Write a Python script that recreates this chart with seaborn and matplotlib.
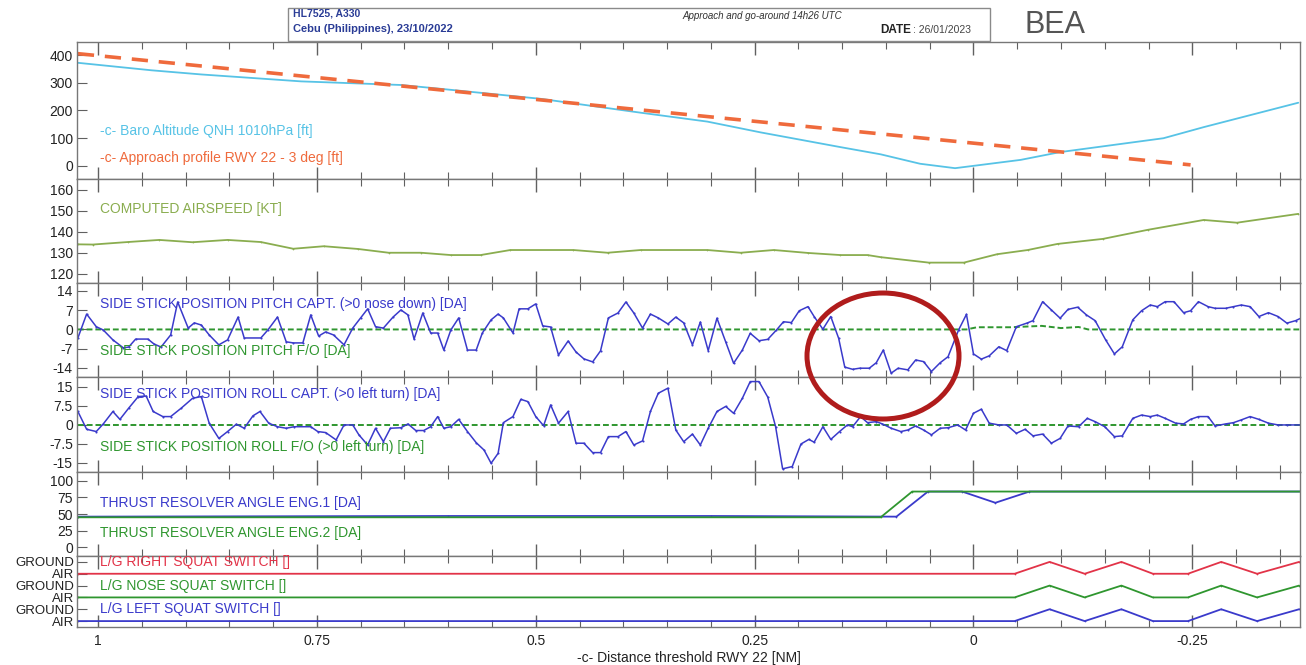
import matplotlib
matplotlib.use("Agg")
import matplotlib.pyplot as plt
import matplotlib.ticker as mticker
from matplotlib.patches import Rectangle, Ellipse
import seaborn as sns

# ---- values, x = distance to threshold RWY 22 [NM] ----
ALT_DIST = [1.023, 0.939, 0.882, 0.768, 0.654, 0.608, 0.494, 0.380, 0.304, 0.243,
            0.152, 0.106, 0.061, 0.021, -0.054, -0.099, -0.217, -0.263, -0.371]
ALT_BARO = [372, 345, 330, 305, 292, 278, 242, 192, 160, 121,
            68, 42, 8, -8, 22, 50, 100, 140, 228]
PROFILE_DIST = [1.023, -0.248]
PROFILE_ALT = [405, 4]

CAS_DIST = [1.023, 1.006, 0.966, 0.930, 0.892, 0.852, 0.814, 0.777, 0.742, 0.703,
            0.668, 0.631, 0.597, 0.563, 0.529, 0.457, 0.418, 0.380, 0.304, 0.266,
            0.228, 0.189, 0.152, 0.121, 0.106, 0.051, 0.011, -0.027, -0.062, -0.096,
            -0.148, -0.199, -0.263, -0.301, -0.371]
CAS_KT = [134.1, 134, 135.2, 136.2, 135.1, 136.2, 135.2, 132, 133.2, 131.9,
          130.1, 130.1, 129, 129, 131.4, 131.4, 130.1, 131.4, 131.4, 130.1,
          131.4, 130, 129, 129, 128, 125.4, 125.4, 129.4, 131.4, 134.3,
          136.7, 141, 145.7, 144.4, 148.6]

PITCH_DIST = [1.023, 1.013, 1.002, 0.994, 0.983, 0.971, 0.965, 0.957, 0.943, 0.936,
              0.928, 0.917, 0.909, 0.897, 0.890, 0.882, 0.873, 0.862, 0.852, 0.840,
              0.833, 0.814, 0.806, 0.795, 0.785, 0.777, 0.766, 0.757, 0.748, 0.740,
              0.731, 0.719, 0.709, 0.700, 0.692, 0.683, 0.674, 0.663, 0.654, 0.646,
              0.639, 0.629, 0.620, 0.612, 0.605, 0.597, 0.588, 0.578, 0.568, 0.561,
              0.551, 0.543, 0.537, 0.526, 0.519, 0.509, 0.500, 0.492, 0.483, 0.474,
              0.463, 0.454, 0.445, 0.435, 0.426, 0.417, 0.406, 0.397, 0.388, 0.378,
              0.369, 0.360, 0.349, 0.340, 0.331, 0.321, 0.312, 0.303, 0.293, 0.283,
              0.274, 0.264, 0.255, 0.245, 0.235, 0.225, 0.217, 0.208, 0.199, 0.189,
              0.182, 0.172, 0.163, 0.154, 0.147, 0.138, 0.130, 0.119, 0.111, 0.103,
              0.094, 0.086, 0.075, 0.066, 0.057, 0.048, 0.038, 0.029, 0.017, 0.008,
              0.000, -0.009, -0.018, -0.029, -0.038, -0.049, -0.061, -0.068, -0.079, -0.089,
              -0.099, -0.108, -0.119, -0.129, -0.139, -0.151, -0.161, -0.170, -0.182, -0.192,
              -0.202, -0.210, -0.219, -0.229, -0.240, -0.248, -0.257, -0.268, -0.276, -0.288,
              -0.297, -0.306, -0.316, -0.326, -0.337, -0.348, -0.358, -0.368, -0.374]
PITCH_CAPT = [-3.1, 5.6, 1, -0.2, -3.8, -6.7, -6.4, -3.5, -3.5, -5.3,
              -6.4, -2, 10, 0.5, 2.4, 1.6, -2, -5.6, -3.8, 4.5,
              -3.1, -3.1, -0.2, 4.5, -4.5, -4.9, -4.9, 5.3, -2.4, -0.9,
              -2, -5.6, 0.5, 4.2, 7.5, 1, 0.5, 4.5, 7.1, 5.3,
              -3.5, 6, -1.3, -1.3, -7.5, -0.2, 4.2, -7.5, -7.5, -1.3,
              3.5, 5.6, 4.2, -1.3, 7.5, 7.5, 9.3, 1.3, 0.9, -9.3,
              -4.2, -8.2, -10.7, -11.8, -7.8, 4.2, 6, 10, 6, 0.5,
              5.6, 4.2, 2, 4.5, 2.4, -5.6, 2.7, -7.7, 4.1, -4.5,
              -12.3, -7.5, -1.4, -4.1, -3.6, -0.2, 2.8, 2.5, 6.8, 8.3,
              4.7, 0.1, 4.7, -3.2, -13.7, -14.5, -14.1, -14.1, -12.1, -7.5,
              -15.9, -14.1, -14.7, -11.1, -11.7, -15.3, -12.1, -9.9, -0.2, 5.5,
              -8.9, -10.8, -9.6, -6.3, -7.7, 1, 2.3, 3.2, 10.1, 7.1,
              4.1, 7.3, 8.1, 5.3, 3.2, -3.8, -8.9, -6.3, 3.5, 6.8,
              8.9, 8.3, 10.1, 10.1, 6.1, 6.8, 10.1, 8.3, 7.7, 7.7,
              8.3, 8.9, 8.3, 4.7, 6.1, 4.7, 2.3, 3.2, 4.1]
PITCH_FO_DIST = [1.023, 0.008, -0.004, -0.042, -0.078, -0.100, -0.120, -0.131, -0.374]
PITCH_FO = [0, 0, 0.8, 0.8, 1.3, 0.5, 0.9, 0, 0]

ROLL_DIST = [1.023, 1.013, 1.002, 0.994, 0.983, 0.975, 0.965, 0.954, 0.945, 0.937,
             0.926, 0.917, 0.905, 0.892, 0.882, 0.873, 0.862, 0.852, 0.842, 0.833,
             0.823, 0.815, 0.805, 0.795, 0.785, 0.776, 0.757, 0.749, 0.740, 0.728,
             0.719, 0.709, 0.702, 0.692, 0.683, 0.674, 0.666, 0.654, 0.646, 0.637,
             0.628, 0.620, 0.612, 0.605, 0.597, 0.588, 0.578, 0.568, 0.559, 0.551,
             0.543, 0.537, 0.526, 0.517, 0.509, 0.500, 0.491, 0.483, 0.474, 0.463,
             0.454, 0.445, 0.435, 0.426, 0.417, 0.406, 0.397, 0.388, 0.378, 0.369,
             0.360, 0.349, 0.340, 0.331, 0.321, 0.312, 0.303, 0.293, 0.283, 0.274,
             0.264, 0.255, 0.245, 0.235, 0.226, 0.218, 0.207, 0.197, 0.188, 0.182,
             0.172, 0.163, 0.153, 0.144, 0.138, 0.129, 0.121, 0.111, 0.104, 0.094,
             0.083, 0.075, 0.066, 0.057, 0.048, 0.038, 0.029, 0.018, 0.009, 0.000,
             -0.009, -0.018, -0.029, -0.038, -0.049, -0.059, -0.068, -0.079, -0.089, -0.099,
             -0.108, -0.120, -0.130, -0.139, -0.150, -0.161, -0.170, -0.182, -0.192, -0.202,
             -0.210, -0.219, -0.231, -0.240, -0.248, -0.257, -0.268, -0.276, -0.288, -0.297,
             -0.306, -0.316, -0.326, -0.337, -0.348, -0.358, -0.374]
ROLL_CAPT = [5.3, -1.7, -2.6, 0.4, 5.3, 2.2, 6.6, 11.2, 11.4, 5.3,
             3.3, 3.3, 6.6, 10.5, 11.2, 0.7, -5.3, -2.6, 0.3, -1.3,
             3.6, 5.3, 0.7, -0.7, -1.3, -0.7, -0.7, -2.6, -3, -5.9,
             0, 0, -3.9, -7.9, -1.3, -6.6, -1.3, -1.1, 0.4, -2.2,
             -2.2, -0.7, 3.3, -1.3, -0.7, 2.2, -2.6, -7, -9.9, -15.1,
             -11.2, 0.9, 3.3, 10.1, 9.2, 3.3, -0.3, 7.9, 0.7, 5.3,
             -7.2, -7.2, -10.9, -10.9, -4.6, -4.6, -2.6, -7.9, -6.3, 5.3,
             12.5, 14.5, -2, -6.6, -3.6, -7.9, -1.3, 5.3, 7.3, 4.6,
             10.5, 17.1, 17.1, 11, -0.7, -17.3, -16.4, -7.5, -5.7, -6.8,
             -0.7, -5.7, -2.6, 0, -0.7, 3.3, 0.9, 1.3, 0.4, -1.3,
             -2.6, -2, -0.4, -2, -3.9, -1.3, -1.1, 0, -2, 4.6,
             6.2, 0.7, 0, 0, -3.3, -1.7, -4.3, -3.6, -7.2, -5.3,
             -0.4, -0.7, 2.6, 1.3, -0.7, -4.6, -4.3, 2.6, 3.9, 3.3,
             3.9, 2.6, 0.7, 0.4, 2.2, 3.3, 3.3, -0.4, 0.4, 0.9,
             2, 3.3, 2.2, 0.7, 0, 0, 0]
ROLL_FO_DIST = [1.023, -0.374]
ROLL_FO = [0, 0]

TRA1_DIST = [1.023, 0.600, 0.300, 0.088, 0.052, 0.013, -0.025, -0.064, -0.374]
TRA1 = [46, 47, 47, 46, 84, 84, 67, 84, 84]
TRA2_DIST = [1.023, 0.106, 0.070, -0.374]
TRA2 = [45, 45, 84, 84]

# squat switches: 0 = AIR, 1 = GROUND (same record on the three gears)
SQUAT_DIST = [1.023, -0.047, -0.087, -0.127, -0.169, -0.205, -0.245, -0.283, -0.324, -0.372]
SQUAT_RIGHT = [0, 0, 1, 0, 1, 0, 0, 1, 0, 1]
SQUAT_NOSE = [0, 0, 1, 0, 1, 0, 0, 1, 0, 1]
SQUAT_LEFT = [0, 0, 1, 0, 1, 0, 0, 1, 0, 1]

# ---- layout (reference is 1306 x 665 px) ----
W_PX, H_PX = 1306, 665
LEFT_PX, RIGHT_PX = 77, 1300
PANELS_PX = [(42, 179), (179, 283), (283, 377), (377, 472), (472, 556), (556, 627)]
XLIM = (1.024, -0.373)

CYAN = "#57c3e6"
ORANGE = "#ef6a3c"
OLIVE = "#8aad4f"
BLUE = "#3a3acb"
GREEN = "#2f962f"
RED = "#e23348"
CIRCLE = "#b01c1c"

sns.set_style("white")
plt.rcParams["font.family"] = ["Liberation Sans", "DejaVu Sans"]
plt.rcParams["axes.unicode_minus"] = False


def style_axes(ax, yticks, ylim):
    ax.set_xlim(*XLIM)
    ax.set_ylim(*ylim)
    ax.set_yticks(yticks)
    ax.xaxis.set_major_locator(mticker.MultipleLocator(0.25))
    ax.xaxis.set_minor_locator(mticker.MultipleLocator(0.05))
    ax.xaxis.set_major_formatter(mticker.FormatStrFormatter("%g"))
    ax.yaxis.set_major_formatter(mticker.FormatStrFormatter("%g"))
    ax.tick_params(axis="x", which="both", direction="in", top=True, bottom=True,
                   labelbottom=False, color="#606060")
    ax.tick_params(axis="x", which="major", length=9, width=1)
    ax.tick_params(axis="x", which="minor", length=5, width=0.8)
    ax.tick_params(axis="y", direction="in", length=7, left=True, right=False,
                   labelsize=10, color="#606060", labelcolor="#222222", pad=3)
    for sp in ax.spines.values():
        sp.set_color("#777777")
        sp.set_linewidth(1)
    ax.set_xlabel("")
    ax.set_ylabel("")


def line(ax, x, y, color, lw=1.2, marker=".", ms=3, **kw):
    sns.lineplot(x=x, y=y, ax=ax, color=color, linewidth=lw, marker=marker,
                 markersize=ms, markeredgewidth=0, sort=False, estimator=None,
                 legend=False, **kw)


def label(ax, y, text, color):
    ax.text(0.019, y, text, transform=ax.transAxes, color=color, fontsize=10,
            va="center", ha="left")


fig = plt.figure(figsize=(W_PX / 100, H_PX / 100), dpi=100)
axes = []
for top, bot in PANELS_PX:
    axes.append(fig.add_axes([LEFT_PX / W_PX, 1 - bot / H_PX,
                              (RIGHT_PX - LEFT_PX) / W_PX, (bot - top) / H_PX]))
ax_alt, ax_cas, ax_pitch, ax_roll, ax_tra, ax_sq = axes

# altitude
line(ax_alt, ALT_DIST, ALT_BARO, CYAN, lw=1.3, marker=None)
ax_alt.plot(PROFILE_DIST, PROFILE_ALT, color=ORANGE, lw=2.6, dashes=(4.5, 3))
style_axes(ax_alt, [0, 100, 200, 300, 400], (-47, 447))
label(ax_alt, 0.35, "-c- Baro Altitude QNH 1010hPa [ft]", CYAN)
label(ax_alt, 0.153, "-c- Approach profile RWY 22 - 3 deg [ft]", ORANGE)

# airspeed
line(ax_cas, CAS_DIST, CAS_KT, OLIVE, lw=1.3, ms=2.5)
style_axes(ax_cas, [120, 130, 140, 150, 160], (115.7, 165.2))
label(ax_cas, 0.71, "COMPUTED AIRSPEED [KT]", OLIVE)

# side stick pitch
ax_pitch.plot(PITCH_FO_DIST, PITCH_FO, color=GREEN, lw=1.4, dashes=(3, 1.5))
line(ax_pitch, PITCH_DIST, PITCH_CAPT, BLUE, lw=1.1)
style_axes(ax_pitch, [-14, -7, 0, 7, 14], (-17.3, 16.9))
label(ax_pitch, 0.777, "SIDE STICK POSITION PITCH CAPT. (>0 nose down) [DA]", BLUE)
label(ax_pitch, 0.277, "SIDE STICK POSITION PITCH F/O [DA]", GREEN)

# side stick roll
ax_roll.plot(ROLL_FO_DIST, ROLL_FO, color=GREEN, lw=1.4, dashes=(3, 1.5))
line(ax_roll, ROLL_DIST, ROLL_CAPT, BLUE, lw=1.1)
style_axes(ax_roll, [-15, -7.5, 0, 7.5, 15], (-18.55, 18.9))
label(ax_roll, 0.82, "SIDE STICK POSITION ROLL CAPT. (>0 left turn) [DA]", BLUE)
label(ax_roll, 0.265, "SIDE STICK POSITION ROLL F/O (>0 left turn) [DA]", GREEN)

# thrust resolver angles
line(ax_tra, TRA1_DIST, TRA1, BLUE, lw=1.3, ms=2.5)
line(ax_tra, TRA2_DIST, TRA2, GREEN, lw=1.3, ms=2.5)
style_axes(ax_tra, [0, 25, 50, 75, 100], (-13.6, 113.6))
label(ax_tra, 0.63, "THRUST RESOLVER ANGLE ENG.1 [DA]", BLUE)
label(ax_tra, 0.27, "THRUST RESOLVER ANGLE ENG.2 [DA]", GREEN)

# squat switches, stacked: left 0-1, nose 2-3, right 4-5
line(ax_sq, SQUAT_DIST, [v + 4 for v in SQUAT_RIGHT], RED, lw=1.3, ms=2.5)
line(ax_sq, SQUAT_DIST, [v + 2 for v in SQUAT_NOSE], GREEN, lw=1.3, ms=2.5)
line(ax_sq, SQUAT_DIST, SQUAT_LEFT, BLUE, lw=1.3, ms=2.5)
style_axes(ax_sq, [0, 1, 2, 3, 4, 5], (-0.5, 5.5))
ax_sq.set_yticklabels(["AIR", "GROUND", "AIR", "GROUND", "AIR", "GROUND"])
ax_sq.tick_params(axis="y", labelsize=9.5, pad=2)
for y, txt, col in [(5, "L/G RIGHT SQUAT SWITCH []", RED),
                    (3, "L/G NOSE SQUAT SWITCH []", GREEN),
                    (1, "L/G LEFT SQUAT SWITCH []", BLUE)]:
    ax_sq.text(0.019, y, txt, transform=ax_sq.get_yaxis_transform(), color=col,
               fontsize=10, va="center", ha="left")
ax_sq.tick_params(axis="x", labelbottom=True, labelsize=10, pad=5, labelcolor="#222222")
ax_sq.set_xlabel("-c- Distance threshold RWY 22 [NM]", fontsize=10, labelpad=2, color="#222222")

# red circle drawn over the pitch / roll panels
fig.add_artist(Ellipse((883 / W_PX, 1 - 356 / H_PX), 152 / W_PX, 126 / H_PX,
                       transform=fig.transFigure, fill=False, ec=CIRCLE, lw=3.6))

# header cartouche
fig.add_artist(Rectangle((288 / W_PX, 1 - 41 / H_PX), (990 - 288) / W_PX, (41 - 8) / H_PX,
                         transform=fig.transFigure, fill=False, ec="#8a8a8a", lw=1))
fig.text(293 / W_PX, 1 - 14 / H_PX, "HL7525, A330", fontsize=7.5, fontweight="bold",
         color="#2a3c96", va="center")
fig.text(293 / W_PX, 1 - 29 / H_PX, "Cebu (Philippines), 23/10/2022", fontsize=8,
         fontweight="bold", color="#2a3c96", va="center")
fig.text(762 / W_PX, 1 - 16 / H_PX, "Approach and go-around 14h26 UTC", fontsize=7,
         style="italic", color="#333333", ha="center", va="center")
fig.text(880 / W_PX, 1 - 30 / H_PX, "DATE", fontsize=8.5, fontweight="bold",
         color="#222222", va="center")
fig.text(913 / W_PX, 1 - 30 / H_PX, ": 26/01/2023", fontsize=7.5, color="#444444",
         ha="left", va="center")
fig.text(1055 / W_PX, 1 - 25 / H_PX, "BEA", fontsize=22, color="#555555",
         ha="center", va="center", fontweight="light")

fig.savefig("out.png", dpi=100)
